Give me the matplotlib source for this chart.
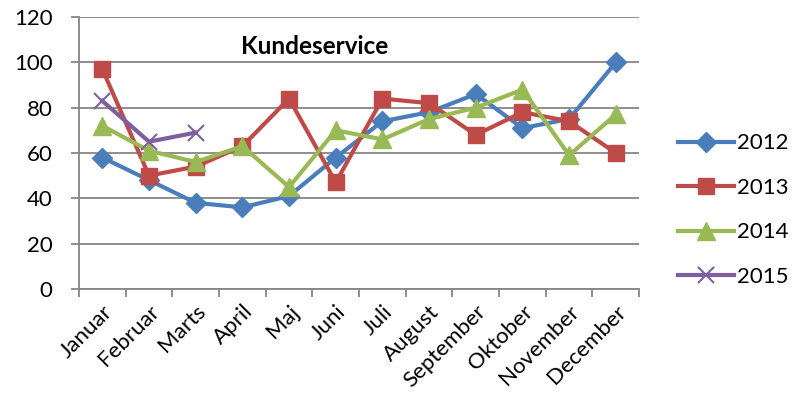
import numpy as np
import matplotlib
matplotlib.use('Agg')
import matplotlib.pyplot as plt

plt.rcParams['font.family'] = ['Lato', 'DejaVu Sans']

# data
maaneder = ['Januar', 'Februar', 'Marts', 'April', 'Maj', 'Juni', 'Juli',
            'August', 'September', 'Oktober', 'November', 'December']
v2012 = [58, 48, 38, 36, 41, 58, 74, 78, 86, 71, 75, 100]
v2013 = [97, 50, 54, 63, 84, 47, 84, 82, 68, 78, 74, 60]
v2014 = [72, 61, 56, 63, 45, 70, 66, 75, 80, 88, 59, 77]
v2015 = [83, 65, 69]

fig = plt.figure(figsize=(7.94, 4.11), dpi=100)
ax = fig.add_axes([0.0995, 0.297, 0.7055, 0.6615])

x = np.arange(len(maaneder))
ax.plot(x, v2012, color='#4A7EBB', lw=3, marker='D', ms=10, label='2012', zorder=3)
ax.plot(x, v2013, color='#BE4B48', lw=3, marker='s', ms=12, label='2013', zorder=3)
ax.plot(x, v2014, color='#98B954', lw=3, marker='^', ms=13, label='2014', zorder=3)
ax.plot(x[:len(v2015)], v2015, color='#7D60A0', lw=3, marker='x', ms=12, mew=1.5,
        label='2015', zorder=3)

ax.set_xlim(-0.5, len(maaneder) - 0.5)
ax.set_ylim(0, 120)
ax.set_yticks(range(0, 121, 20))
ax.yaxis.grid(True, color='#868686', lw=1.3)
ax.set_axisbelow(True)

# ticks at category boundaries, labels at centers
ax.set_xticks(np.arange(-0.5, len(maaneder), 1))
ax.set_xticklabels([])
ax.set_xticks(x, minor=True)
ax.set_xticklabels(maaneder, minor=True, rotation=45, ha='right',
                   rotation_mode='anchor', fontsize=16)
ax.tick_params(axis='x', which='minor', length=0, pad=9)
ax.tick_params(axis='x', which='major', length=6, width=1.3, color='#868686', direction='out')
ax.tick_params(axis='y', length=6, width=1.3, color='#868686', labelsize=16, pad=13)

for s in ['top', 'right']:
    ax.spines[s].set_visible(False)
for s in ['left', 'bottom']:
    ax.spines[s].set_color('#868686')
    ax.spines[s].set_linewidth(1.3)

ax.text(0.42, 0.89, 'Kundeservice', transform=ax.transAxes, ha='center', va='center',
        fontsize=17.5, weight='bold')

ax.legend(loc='center left', bbox_to_anchor=(1.07, 0.29), frameon=False, fontsize=16,
          labelspacing=1.1, handlelength=2.5, handletextpad=0.15,
          borderpad=0, borderaxespad=0)

fig.savefig('out.png', dpi=100)
